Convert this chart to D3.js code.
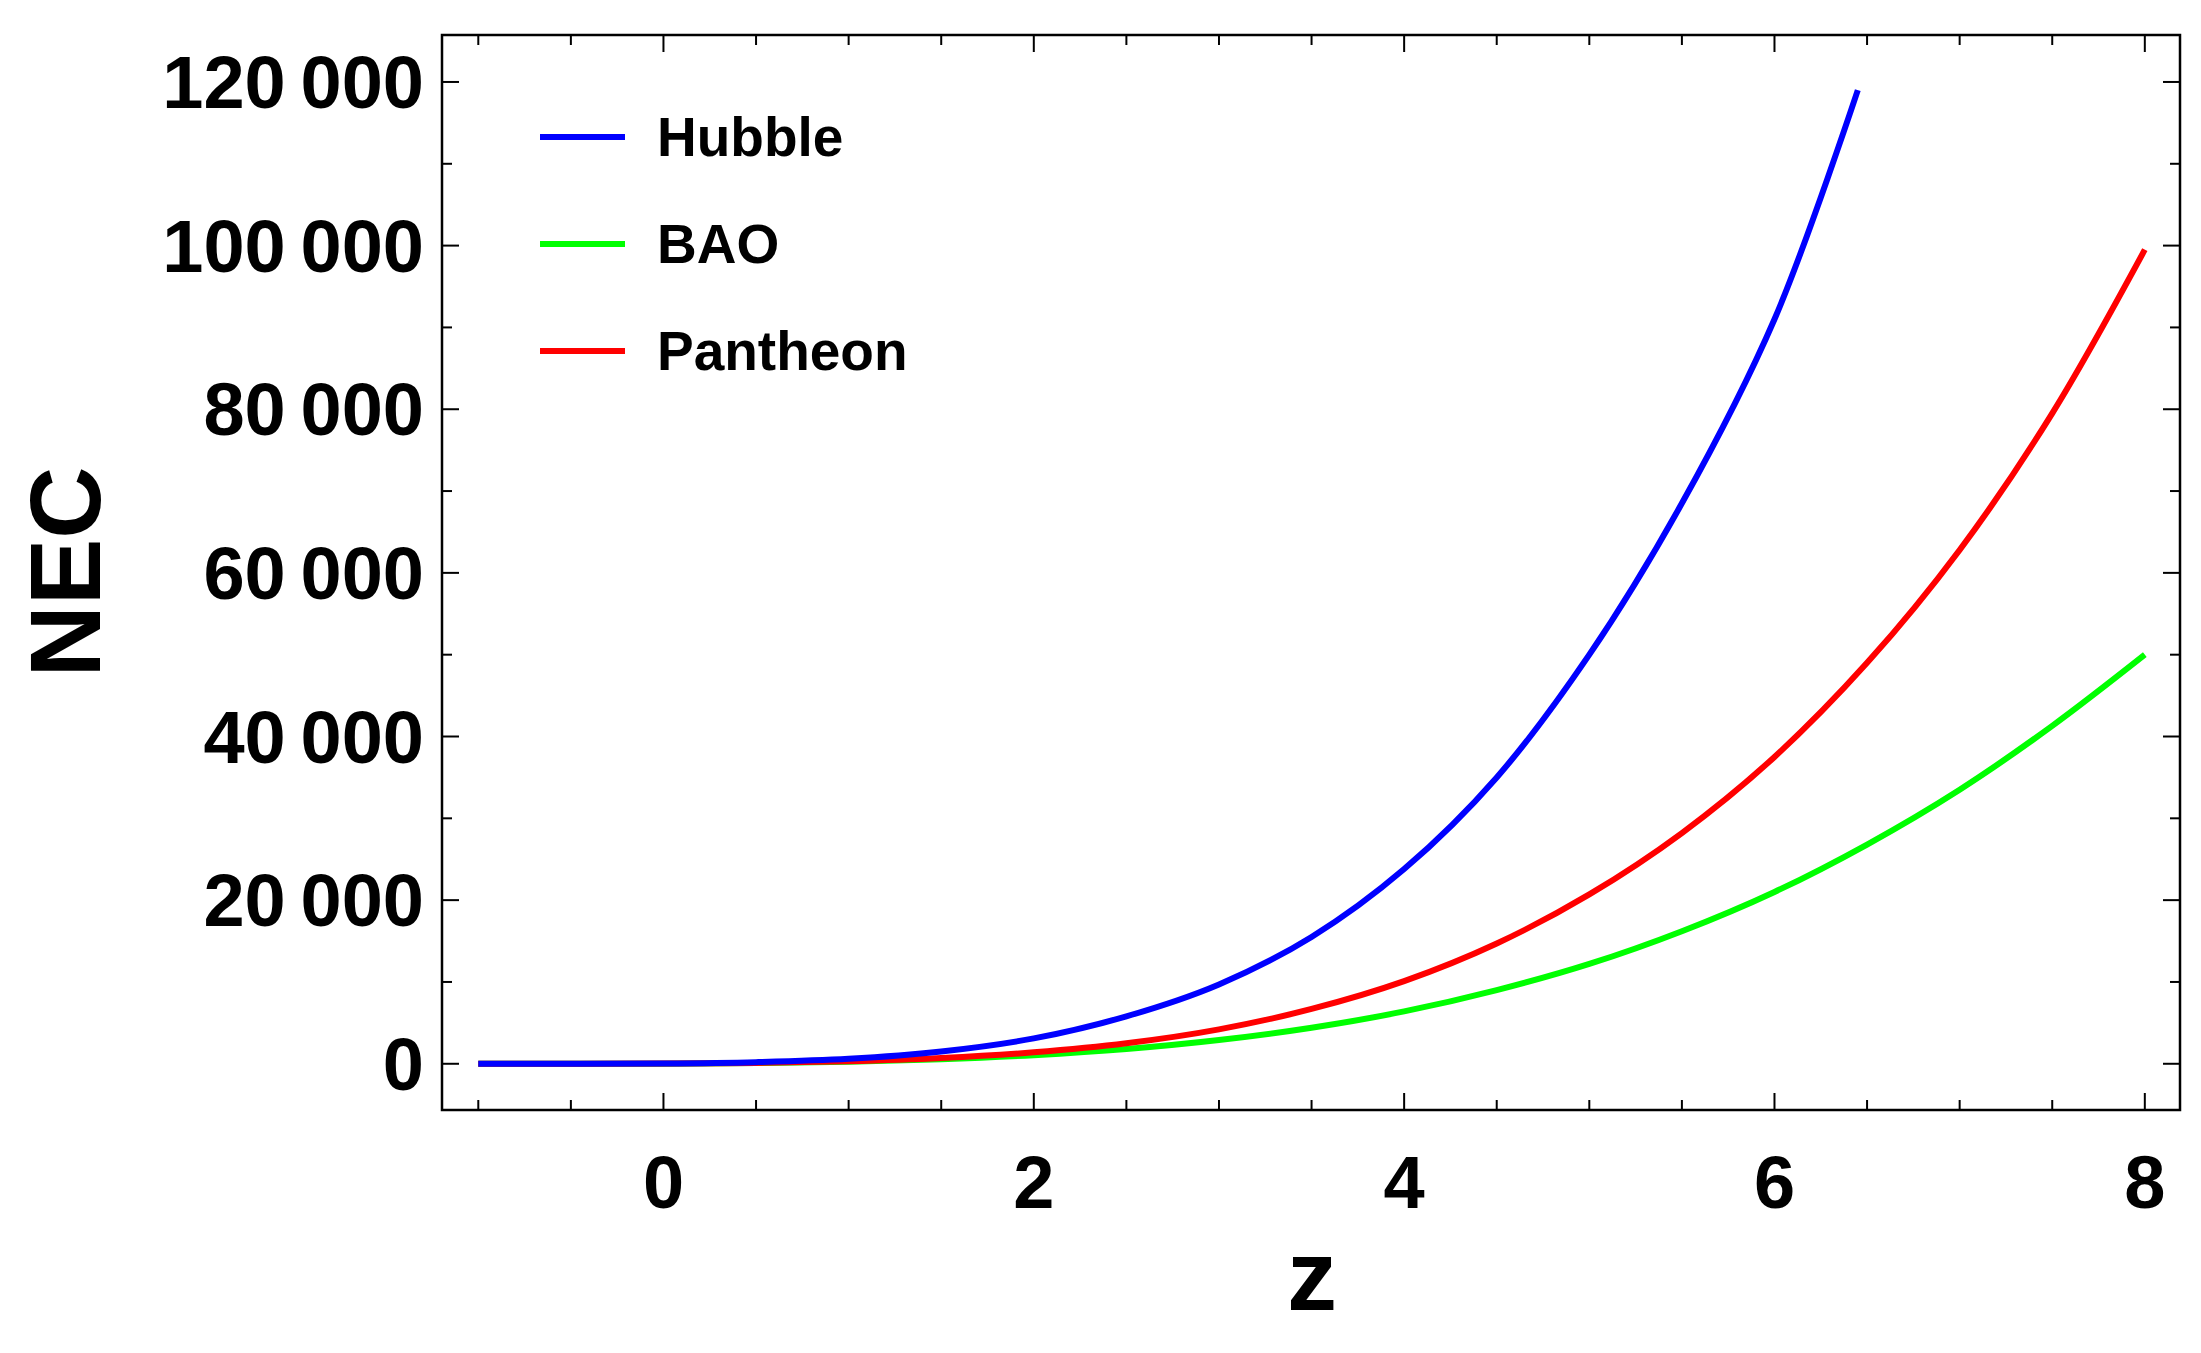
<!DOCTYPE html>
<html><head><meta charset="utf-8">
<script src="https://cdn.jsdelivr.net/npm/d3@7"></script>
<style>body{margin:0;background:#fff}text{font-family:"Liberation Sans",Arial,sans-serif;font-weight:bold}</style>
</head><body>
<svg id="c" width="2201" height="1353"></svg>
<script>
const zHubble = [-1, 0, 0.5, 1, 1.5, 2, 2.5, 3, 3.5, 4, 4.5, 5, 5.5, 6, 6.45];
const necHubble = [0, 40, 200, 600, 1500, 3100, 5800, 9700, 15500, 23800, 35000, 50000, 68500, 91000, 119000];
const zBAO = [-1, 0, 0.5, 1, 1.5, 2, 2.5, 3, 3.5, 4, 4.5, 5, 5.5, 6, 6.5, 7, 7.5, 8];
const necBAO = [0, 15, 80, 250, 550, 1050, 1800, 2900, 4400, 6400, 9000, 12200, 16200, 21000, 26800, 33500, 41300, 50000];
const zPantheon = [-1, 0, 0.5, 1, 1.5, 2, 2.5, 3, 3.5, 4, 4.5, 5, 5.5, 6, 6.5, 7, 7.5, 8];
const necPantheon = [0, 20, 100, 300, 700, 1400, 2500, 4200, 6700, 10100, 14700, 20700, 28200, 37500, 49000, 62800, 79500, 99500];
const series = [
  {name: "Hubble", color: "#0000ff", z: zHubble, v: necHubble},
  {name: "BAO", color: "#00ff00", z: zBAO, v: necBAO},
  {name: "Pantheon", color: "#ff0000", z: zPantheon, v: necPantheon}
];
const xTicks = [0, 2, 4, 6, 8];
const yTicks = [0, 20000, 40000, 60000, 80000, 100000, 120000];

const svg = d3.select("#c");
const L = 442, R = 2180, T = 35, B = 1110;
const x = d3.scaleLinear().domain([-1.196, 8.19]).range([L, R]);
const y = d3.scaleLinear().domain([-5650, 125740]).range([B, T]);
const fmt = d => d3.format(",")(d).replace(/,/g, "\u2009");

svg.append("rect").attr("x", L).attr("y", T).attr("width", R - L).attr("height", B - T)
  .attr("fill", "none").attr("stroke", "#000").attr("stroke-width", 2.5);

const g = svg.append("g");
function ticks(vals, len, axis) {
  vals.forEach(v => {
    if (axis === "x") {
      const px = x(v);
      g.append("line").attr("x1", px).attr("x2", px).attr("y1", B).attr("y2", B - len).attr("stroke", "#000").attr("stroke-width", 2);
      g.append("line").attr("x1", px).attr("x2", px).attr("y1", T).attr("y2", T + len).attr("stroke", "#000").attr("stroke-width", 2);
    } else {
      const py = y(v);
      g.append("line").attr("y1", py).attr("y2", py).attr("x1", L).attr("x2", L + len).attr("stroke", "#000").attr("stroke-width", 2);
      g.append("line").attr("y1", py).attr("y2", py).attr("x1", R).attr("x2", R - len).attr("stroke", "#000").attr("stroke-width", 2);
    }
  });
}
ticks(xTicks, 17, "x");
ticks(d3.range(-1, 8.01, 0.5).filter(v => !xTicks.includes(v)), 10, "x");
ticks(yTicks, 17, "y");
ticks(d3.range(-0, 125000, 10000).filter(v => !yTicks.includes(v)), 10, "y");

xTicks.forEach(v => g.append("text").attr("x", x(v)).attr("y", B + 98).attr("text-anchor", "middle")
  .attr("font-size", 74).text(v));
yTicks.forEach(v => g.append("text").attr("x", L - 18).attr("y", y(v) + 26).attr("text-anchor", "end")
  .attr("font-size", 74).text(fmt(v)));

svg.append("text").attr("x", 1312).attr("y", 1310).attr("text-anchor", "middle").attr("font-size", 100).text("z");
svg.append("text").attr("transform", "translate(100,572) rotate(-90)").attr("text-anchor", "middle")
  .attr("font-size", 100).text("NEC");

const line = d3.line().curve(d3.curveCatmullRom).x(d => x(d[0])).y(d => y(d[1]));
svg.append("defs").append("clipPath").attr("id", "clip").append("rect")
  .attr("x", L).attr("y", T).attr("width", R - L).attr("height", B - T);
[1, 2, 0].forEach(i => {
  const s = series[i];
  svg.append("path").attr("clip-path", "url(#clip)").attr("d", line(s.z.map((z, j) => [z, s.v[j]])))
    .attr("fill", "none").attr("stroke", s.color).attr("stroke-width", 6);
});

series.forEach((s, i) => {
  const ly = 137 + i * 107;
  svg.append("line").attr("x1", 540).attr("x2", 625).attr("y1", ly).attr("y2", ly).attr("stroke", s.color).attr("stroke-width", 6);
  svg.append("text").attr("x", 657).attr("y", ly + 19).attr("font-size", 55).text(s.name);
});
</script>
</body></html>
